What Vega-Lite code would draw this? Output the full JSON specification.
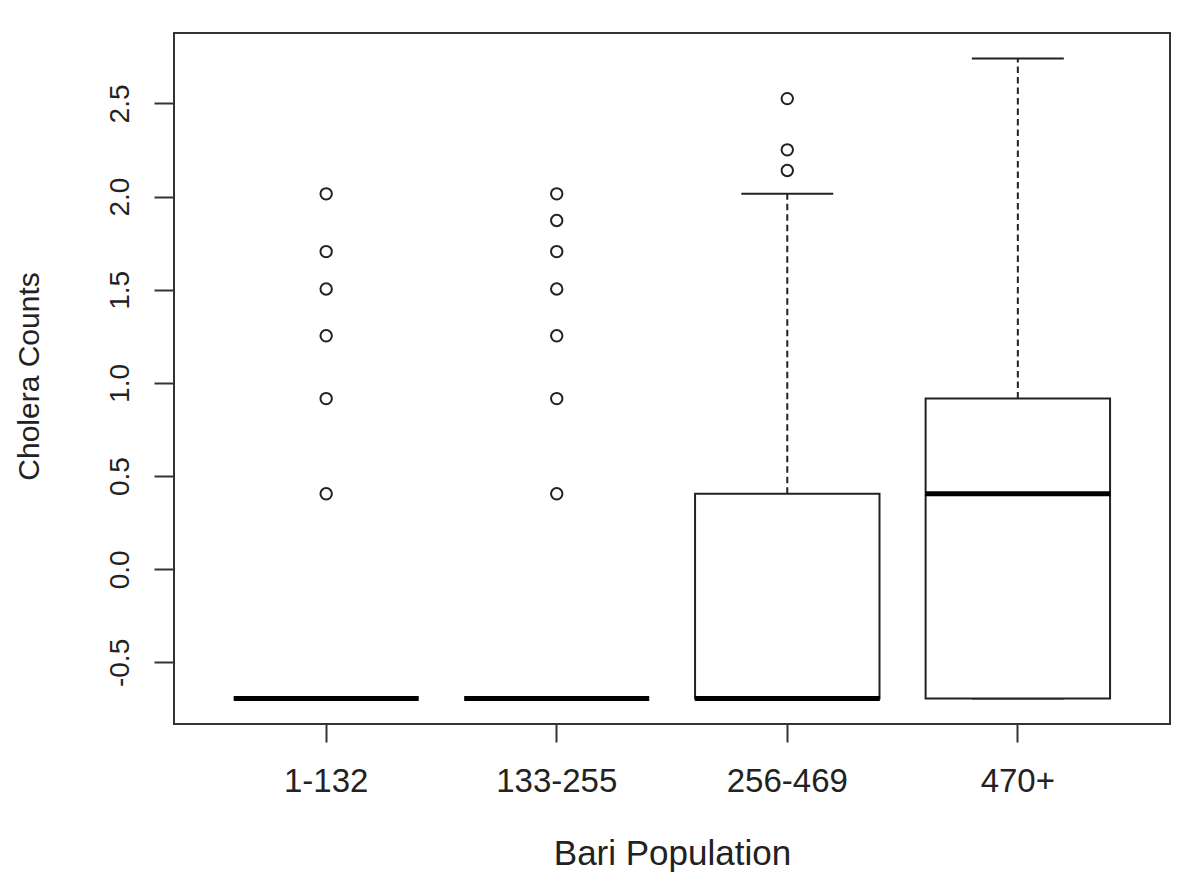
{
  "$schema": "https://vega.github.io/schema/vega-lite/v6.json",
  "autosize": "none",
  "width": 996,
  "height": 691,
  "padding": {"left": 174, "top": 33, "right": 30, "bottom": 157},
  "background": "white",
  "config": {
    "view": {"stroke": "#333333", "strokeWidth": 2},
    "font": "Liberation Sans"
  },
  "datasets": {
    "boxes": [
      {"group": "1-132", "lower": -0.693, "q1": -0.693, "median": -0.693, "q3": -0.693, "upper": -0.693},
      {"group": "133-255", "lower": -0.693, "q1": -0.693, "median": -0.693, "q3": -0.693, "upper": -0.693},
      {"group": "256-469", "lower": -0.693, "q1": -0.693, "median": -0.693, "q3": 0.405, "upper": 2.015},
      {"group": "470+", "lower": -0.693, "q1": -0.693, "median": 0.405, "q3": 0.916, "upper": 2.741}
    ],
    "outliers": [
      {"group": "1-132", "value": 0.405},
      {"group": "1-132", "value": 0.916},
      {"group": "1-132", "value": 1.253},
      {"group": "1-132", "value": 1.504},
      {"group": "1-132", "value": 1.705},
      {"group": "1-132", "value": 2.015},
      {"group": "133-255", "value": 0.405},
      {"group": "133-255", "value": 0.916},
      {"group": "133-255", "value": 1.253},
      {"group": "133-255", "value": 1.504},
      {"group": "133-255", "value": 1.705},
      {"group": "133-255", "value": 1.872},
      {"group": "133-255", "value": 2.015},
      {"group": "256-469", "value": 2.140},
      {"group": "256-469", "value": 2.251},
      {"group": "256-469", "value": 2.526}
    ]
  },
  "encoding": {
    "x": {
      "field": "group",
      "type": "nominal",
      "sort": ["1-132", "133-255", "256-469", "470+"],
      "scale": {"type": "band", "domain": ["1-132", "133-255", "256-469", "470+"], "paddingInner": 0.2, "paddingOuter": 0.26},
      "axis": {
        "title": "Bari Population",
        "titleFont": "Liberation Sans",
        "titleFontSize": 35,
        "titleFontWeight": "normal",
        "titleColor": "#222222",
        "titleBaseline": "alphabetic",
        "titleY": 140,
        "labelFont": "Liberation Sans",
        "labelFontSize": 33,
        "labelColor": "#222222",
        "labelAngle": 0,
        "labelAlign": "center",
        "labelBaseline": "alphabetic",
        "labelPadding": 49,
        "tickSize": 18,
        "tickWidth": 2,
        "tickColor": "#333333",
        "domain": false,
        "grid": false
      }
    }
  },
  "layer": [
    {
      "data": {"name": "boxes"},
      "mark": {"type": "rule", "color": "#222222", "strokeWidth": 2, "strokeDash": [6.5, 4]},
      "encoding": {
        "y": {
          "field": "q3",
          "type": "quantitative",
          "scale": {"domain": [-0.8305, 2.8782], "nice": false, "zero": false},
          "axis": {
            "title": "Cholera Counts",
            "titleFont": "Liberation Sans",
            "titleFontSize": 30,
            "titleFontWeight": "normal",
            "titleColor": "#222222",
            "titleAngle": 270,
            "titleAlign": "center",
            "titleBaseline": "alphabetic",
            "titleX": -136,
            "titleY": 343,
            "values": [-0.5, 0, 0.5, 1, 1.5, 2, 2.5],
            "labelExpr": "datum.value < 0 ? '-' + format(-datum.value, '.1f') : format(datum.value, '.1f')",
            "labelFont": "Liberation Sans",
            "labelFontSize": 28,
            "labelColor": "#222222",
            "labelAngle": 270,
            "labelAlign": "center",
            "labelBaseline": "alphabetic",
            "labelPadding": 26,
            "tickSize": 20,
            "tickWidth": 2,
            "tickColor": "#333333",
            "domain": false,
            "grid": false
          }
        },
        "y2": {"field": "upper"}
      }
    },
    {
      "data": {"name": "boxes"},
      "mark": {"type": "rule", "color": "#222222", "strokeWidth": 2, "strokeDash": [6.5, 4]},
      "encoding": {
        "y": {"field": "lower", "type": "quantitative"},
        "y2": {"field": "q1"}
      }
    },
    {
      "data": {"name": "boxes"},
      "mark": {"type": "tick", "color": "#222222", "size": 92, "thickness": 2, "opacity": 1},
      "encoding": {
        "y": {"field": "upper", "type": "quantitative"}
      }
    },
    {
      "data": {"name": "boxes"},
      "mark": {"type": "tick", "color": "#222222", "size": 92, "thickness": 2, "opacity": 1},
      "encoding": {
        "y": {"field": "lower", "type": "quantitative"}
      }
    },
    {
      "data": {"name": "boxes"},
      "mark": {"type": "bar", "fill": "white", "stroke": "#222222", "strokeWidth": 2, "width": {"band": 1}},
      "encoding": {
        "y": {"field": "q1", "type": "quantitative"},
        "y2": {"field": "q3"}
      }
    },
    {
      "data": {"name": "boxes"},
      "mark": {"type": "tick", "color": "#000000", "size": 185, "thickness": 5, "opacity": 1},
      "encoding": {
        "y": {"field": "median", "type": "quantitative"}
      }
    },
    {
      "data": {"name": "outliers"},
      "mark": {"type": "point", "shape": "circle", "filled": false, "color": "#222222", "size": 130, "strokeWidth": 2, "opacity": 1},
      "encoding": {
        "y": {"field": "value", "type": "quantitative"}
      }
    }
  ]
}
